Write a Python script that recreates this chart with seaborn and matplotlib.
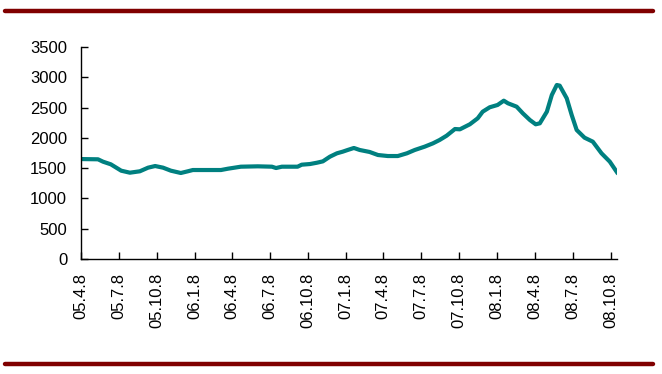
import pandas as pd
import matplotlib
matplotlib.use("Agg")
import matplotlib.pyplot as plt
import matplotlib.lines as mlines
import seaborn as sns

# values
dates = [
    "2005-04-08", "2005-05-19", "2005-05-31", "2005-06-19", "2005-07-14",
    "2005-08-04", "2005-08-28", "2005-09-17", "2005-10-04", "2005-10-23",
    "2005-11-11", "2005-12-05", "2005-12-22", "2006-01-03", "2006-03-12",
    "2006-03-29", "2006-04-29", "2006-06-09", "2006-07-13", "2006-07-23",
    "2006-08-06", "2006-09-13", "2006-09-23", "2006-10-13", "2006-10-30",
    "2006-11-13", "2006-11-30", "2006-12-17", "2006-12-31", "2007-01-12",
    "2007-01-27", "2007-02-10", "2007-03-06", "2007-03-26", "2007-04-19",
    "2007-05-13", "2007-06-04", "2007-06-23", "2007-07-17", "2007-08-06",
    "2007-08-22", "2007-09-08", "2007-09-28", "2007-10-10", "2007-11-03",
    "2007-11-22", "2007-12-04", "2007-12-21", "2008-01-09", "2008-01-24",
    "2008-02-03", "2008-02-24", "2008-03-10", "2008-03-27", "2008-04-10",
    "2008-04-20", "2008-05-07", "2008-05-19", "2008-05-31", "2008-06-07",
    "2008-06-24", "2008-07-06", "2008-07-18", "2008-08-06", "2008-08-26",
    "2008-09-16", "2008-10-06", "2008-10-25",
]
values = [
    1650, 1646, 1607, 1563, 1458,
    1425, 1448, 1508, 1535, 1508,
    1458, 1420, 1448, 1469, 1469,
    1491, 1524, 1530, 1524, 1502,
    1524, 1524, 1557, 1568, 1590,
    1612, 1689, 1745, 1772, 1800,
    1833, 1800, 1767, 1717, 1700,
    1700, 1745, 1800, 1855, 1910,
    1965, 2036, 2146, 2141, 2224,
    2323, 2432, 2505, 2543, 2614,
    2571, 2515, 2405, 2295, 2224,
    2240, 2432, 2708, 2873, 2862,
    2653, 2377, 2130, 2003, 1937,
    1745, 1607, 1415,
]

tick_dates = [
    "2005-04-08", "2005-07-08", "2005-10-08", "2006-01-08", "2006-04-08",
    "2006-07-08", "2006-10-08", "2007-01-08", "2007-04-08", "2007-07-08",
    "2007-10-08", "2008-01-08", "2008-04-08", "2008-07-08", "2008-10-08",
]
tick_labels = [
    "05.4.8", "05.7.8", "05.10.8", "06.1.8", "06.4.8",
    "06.7.8", "06.10.8", "07.1.8", "07.4.8", "07.7.8",
    "07.10.8", "08.1.8", "08.4.8", "08.7.8", "08.10.8",
]
y_ticks = [0, 500, 1000, 1500, 2000, 2500, 3000, 3500]

df = pd.DataFrame({"date": pd.to_datetime(dates), "value": values})

sns.set_style("white")
plt.rcParams["font.family"] = ["Liberation Sans", "DejaVu Sans"]

fig = plt.figure(figsize=(6.62, 3.74), dpi=100)
ax = fig.add_axes([0.1224, 0.3075, 0.810, 0.5668])

sns.lineplot(data=df, x="date", y="value", ax=ax, color="#008080", linewidth=3.0)

ax.set_xlim(pd.Timestamp("2005-04-08"), pd.Timestamp("2008-10-24"))
ax.set_ylim(0, 3500)
ax.set_xticks(pd.to_datetime(tick_dates))
ax.set_xticklabels(tick_labels, rotation=90)
ax.set_yticks(y_ticks)
ax.set_xlabel("")
ax.set_ylabel("")

sns.despine(ax=ax)
for s in ["left", "bottom"]:
    ax.spines[s].set_color("black")
    ax.spines[s].set_linewidth(1.0)
ax.tick_params(axis="both", direction="in", length=5, width=1, color="black",
               labelsize=12, pad=10, labelcolor="black", left=True, bottom=True)

# dark red rules at top and bottom
fig.add_artist(mlines.Line2D([5 / 662, 653 / 662], [1 - 11 / 374, 1 - 11 / 374],
                             color="#800000", linewidth=3.2))
fig.add_artist(mlines.Line2D([5 / 662, 653 / 662], [1 - 364 / 374, 1 - 364 / 374],
                             color="#800000", linewidth=3.2))

fig.savefig("out.png", dpi=100)
